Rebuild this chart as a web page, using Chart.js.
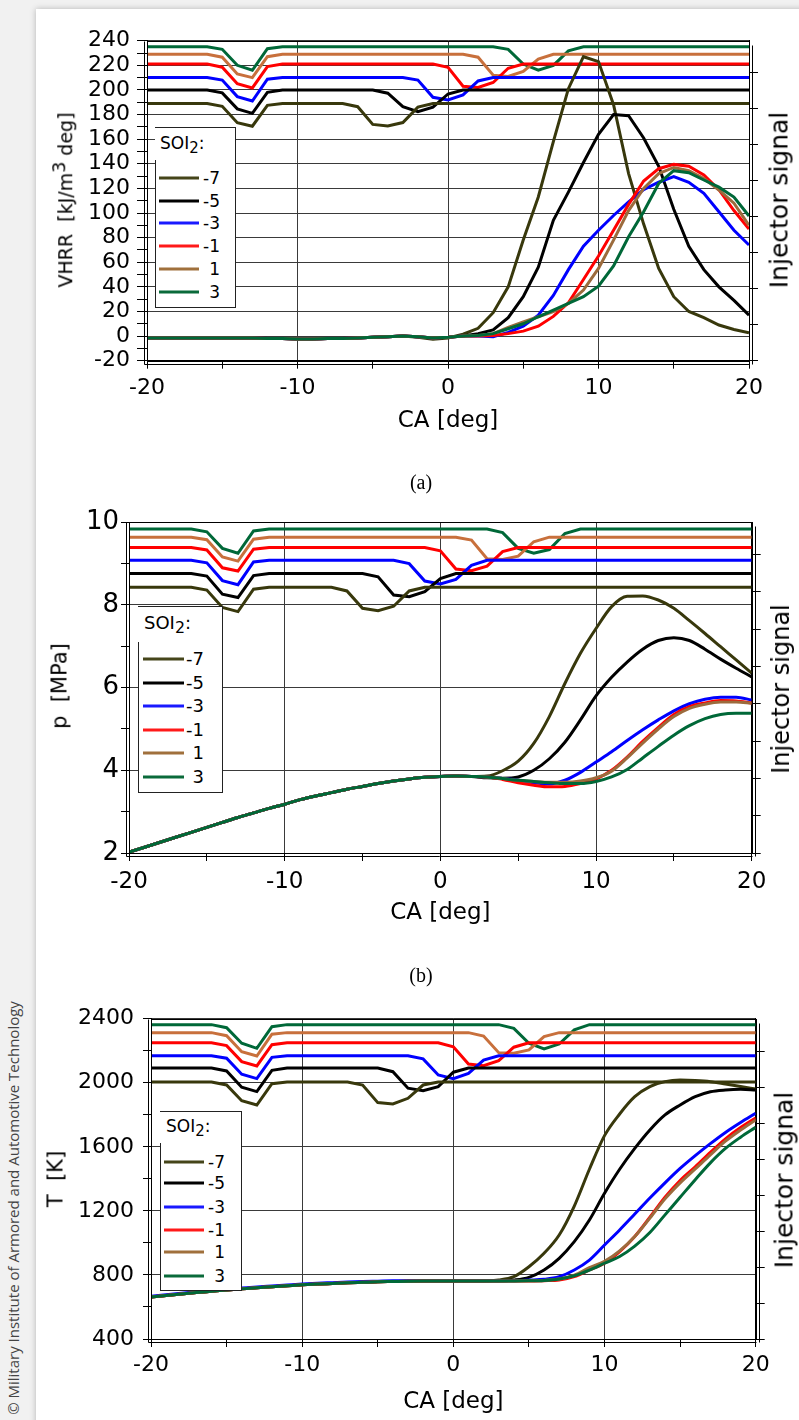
<!DOCTYPE html>
<html><head><meta charset="utf-8">
<script src="https://cdn.jsdelivr.net/npm/chart.js@4.4.1/dist/chart.umd.min.js"></script>
<style>
html,body{margin:0;padding:0}
body{width:799px;height:1420px;position:relative;overflow:hidden;background:#f1f1f1;font-family:'DejaVu Sans',sans-serif}
#card{position:absolute;left:36px;top:9px;width:770px;height:1420px;background:#fff;box-shadow:0 0 6px rgba(0,0,0,0.25)}
canvas{position:absolute;left:0}
.rot{position:absolute;white-space:nowrap;transform:translate(-50%,-50%) rotate(-90deg);color:#000;line-height:1}
.cap{position:absolute;font-family:'Liberation Serif',serif;font-size:20px;transform:translate(-50%,-50%);color:#000}
.leg{position:absolute;background:#fff;border:1px solid #222;border-left:none;box-sizing:border-box}
.legl{position:absolute;width:1px;background:#222}
.lt{position:absolute;white-space:nowrap;transform:translateY(-50%);line-height:1;color:#000}
.ll{position:absolute;height:3px;transform:translateY(-50%)}
#copy{position:absolute;left:13px;top:1208px;transform:translate(-50%,-50%) rotate(-90deg);white-space:nowrap;font-family:'Open Sans',sans-serif;font-size:15px;color:#444}
</style></head>
<body>
<div id="card"></div>
<div id="copy">© Military Institute of Armored and Automotive Technology</div>
<canvas id="c1" width="799" height="450" style="top:0px"></canvas>
<canvas id="c2" width="799" height="480" style="top:470px"></canvas>
<canvas id="c3" width="799" height="460" style="top:960px"></canvas>
<div class="cap" style="left:421px;top:482px">(a)</div>
<div class="cap" style="left:421px;top:975px">(b)</div>
<div class="rot" style="left:66px;top:200px;font-size:19px">VHRR&nbsp;&nbsp;[kJ/m<span style="font-size:92%;position:relative;top:-7px">3</span> deg]</div>
<div class="rot" style="left:60px;top:686px;font-size:21px">p&nbsp;&nbsp;[MPa]</div>
<div class="rot" style="left:56px;top:1179px;font-size:21px">T&nbsp;&nbsp;[K]</div>
<div class="rot" style="left:779px;top:200px;font-size:25px">Injector signal</div>
<div class="rot" style="left:781px;top:689px;font-size:24px">Injector signal</div>
<div class="rot" style="left:784px;top:1180px;font-size:25px">Injector signal</div>
<script>
// ---------- data ----------
const CA = [-20,-19,-18,-17,-16,-15,-14,-13,-12,-11,-10,-9,-8,-7,-6,-5,-4,-3,-2,-1,0,1,2,3,4,5,6,7,8,9,10,11,12,13,14,15,16,17,18,19,20];
const SOI2 = ['-7','-5','-3','-1','1','3'];

// (a) volumetric heat release rate, kJ/m3 deg
const VHRR_m7 = [-1.5,-1.5,-1.5,-1.5,-1.5,-1.5,-1.5,-1.5,-2,-2,-2.3,-2.3,-2,-2,-1.5,-1,-0.5,0,-1,-2.5,-1.5,1.5,6.3,19,40,78,113,158,201,227,223,188,132,91,55,32,20,15,9,5.4,2.7];
const VHRR_m5 = [-1.5,-1.5,-1.5,-1.5,-1.5,-1.5,-1.5,-1.5,-2,-2,-2.3,-2.3,-2,-2,-1.5,-1,-0.5,0,-0.5,-1.5,-1,0,2,5,15,32,56,94,117,141,164,180,179,161,138,103,73,54,40,29,17];
const VHRR_m3 = [-1.5,-1.5,-1.5,-1.5,-1.5,-1.5,-1.5,-1.5,-2,-2,-2.3,-2.3,-2,-2,-1.5,-1,-0.5,0,-0.5,-1.5,-1,0,0,-0.5,3,8,17,33,54,73,86,98,109,119,125,129.5,125,116,101,86,74];
const VHRR_m1 = [-1.5,-1.5,-1.5,-1.5,-1.5,-1.5,-1.5,-1.5,-2,-2,-2.3,-2.3,-2,-2,-1.5,-1,-0.5,0,-0.5,-1.5,-1,0,0,0.5,2,4,8,16,27,46,65,86,107,126,136,139.5,138,131,119,102,87];
const VHRR_p1 = [-1.5,-1.5,-1.5,-1.5,-1.5,-1.5,-1.5,-1.5,-2,-2,-2.3,-2.3,-2,-2,-1.5,-1,-0.5,0,-0.5,-1.5,-1,0,0.5,2,7,11.6,15.7,19.8,26.5,37.4,55,78,102,120,132,137,134.4,128,118.7,108,90];
const VHRR_p3 = [-1.5,-1.5,-1.5,-1.5,-1.5,-1.5,-1.5,-1.5,-2,-2,-2.3,-2.3,-2,-2,-1.5,-1,-0.5,0,-0.5,-1.5,-1,0,0.5,2,6,10,15.7,21,26.5,32,40.6,57,80.7,101,124,134.4,132.8,126.8,121,113,97.6];
// injector signal traces drawn in chart (a)
const INJ1_m7 = [189,189,189,189,189,186.7,173.4,170.5,187.5,189,189,189,189,189,186.4,172,170.7,173.5,186,189,189,189,189,189,189,189,189,189,189,189,189,189,189,189,189,189,189,189,189,189,189];
const INJ1_m5 = [200,200,200,200,200,197.6,184.6,181,198,200,200,200,200,200,200,200,197.3,186.4,182.4,186,196.7,200,200,200,200,200,200,200,200,200,200,200,200,200,200,200,200,200,200,200,200];
const INJ1_m3 = [210,210,210,210,210,208,194.6,191,208.7,210,210,210,210,210,210,210,210,210,208,194,191.9,196,207.3,210,210,210,210,210,210,210,210,210,210,210,210,210,210,210,210,210,210];
const INJ1_m1 = [221,221,221,221,221,218.5,205,201.6,219,221,221,221,221,221,221,221,221,221,221,221,218.4,203,202,206,217.6,221,221,221,221,221,221,221,221,221,221,221,221,221,221,221,221];
const INJ1_p1 = [229,229,229,229,229,226.6,213,210,227,229,229,229,229,229,229,229,229,229,229,229,229,229,226.6,212,211,215,225,229,229,229,229,229,229,229,229,229,229,229,229,229,229];
const INJ1_p3 = [235,235,235,235,235,233,220,216,233.5,235,235,235,235,235,235,235,235,235,235,235,235,235,235,235,233,221,216,220,231.7,235,235,235,235,235,235,235,235,235,235,235,235];

// (b) cylinder pressure, MPa
const P_m7 = [2.02,2.14,2.26,2.38,2.50,2.62,2.74,2.86,2.97,3.08,3.18,3.29,3.38,3.46,3.54,3.61,3.68,3.74,3.79,3.83,3.85,3.86,3.85,3.86,3.99,4.22,4.65,5.30,6.10,6.83,7.43,7.96,8.21,8.22,8.12,7.92,7.62,7.31,6.99,6.67,6.35];
const P_m5 = [2.02,2.14,2.26,2.38,2.50,2.62,2.74,2.86,2.97,3.08,3.18,3.29,3.38,3.46,3.54,3.61,3.68,3.74,3.79,3.83,3.85,3.86,3.85,3.82,3.81,3.84,4.00,4.28,4.68,5.22,5.80,6.25,6.62,6.93,7.14,7.21,7.14,6.93,6.69,6.47,6.26];
const P_m3 = [2.02,2.14,2.26,2.38,2.50,2.62,2.74,2.86,2.97,3.08,3.18,3.29,3.38,3.46,3.54,3.61,3.68,3.74,3.79,3.83,3.85,3.86,3.85,3.84,3.80,3.76,3.70,3.67,3.76,3.95,4.20,4.45,4.72,4.98,5.22,5.44,5.61,5.72,5.77,5.77,5.70];
const P_m1 = [2.02,2.14,2.26,2.38,2.50,2.62,2.74,2.86,2.97,3.08,3.18,3.29,3.38,3.46,3.54,3.61,3.68,3.74,3.79,3.83,3.85,3.86,3.85,3.84,3.78,3.70,3.64,3.60,3.61,3.68,3.79,4.00,4.32,4.70,5.04,5.35,5.54,5.63,5.69,5.68,5.63];
const P_p1 = [2.02,2.14,2.26,2.38,2.50,2.62,2.74,2.86,2.97,3.08,3.18,3.29,3.38,3.46,3.54,3.61,3.68,3.74,3.79,3.83,3.85,3.86,3.85,3.84,3.80,3.76,3.73,3.71,3.71,3.74,3.82,3.98,4.30,4.66,5.00,5.30,5.50,5.60,5.65,5.65,5.62];
const P_p3 = [2.02,2.14,2.26,2.38,2.50,2.62,2.74,2.86,2.97,3.08,3.18,3.29,3.38,3.46,3.54,3.61,3.68,3.74,3.79,3.83,3.85,3.86,3.85,3.84,3.80,3.76,3.73,3.70,3.68,3.68,3.73,3.84,4.02,4.30,4.58,4.85,5.08,5.25,5.35,5.38,5.38];
const INJ2_m7 = [8.43,8.43,8.43,8.43,8.43,8.36,7.94,7.84,8.38,8.43,8.43,8.43,8.43,8.43,8.34,7.92,7.86,7.97,8.34,8.43,8.43,8.43,8.43,8.43,8.43,8.43,8.43,8.43,8.43,8.43,8.43,8.43,8.43,8.43,8.43,8.43,8.43,8.43,8.43,8.43,8.43];
const INJ2_m5 = [8.76,8.76,8.76,8.76,8.76,8.70,8.26,8.18,8.71,8.76,8.76,8.76,8.76,8.76,8.76,8.76,8.68,8.24,8.20,8.32,8.64,8.76,8.76,8.76,8.76,8.76,8.76,8.76,8.76,8.76,8.76,8.76,8.76,8.76,8.76,8.76,8.76,8.76,8.76,8.76,8.76];
const INJ2_m3 = [9.08,9.08,9.08,9.08,9.08,9.02,8.59,8.49,9.04,9.08,9.08,9.08,9.08,9.08,9.08,9.08,9.08,9.08,9.00,8.58,8.51,8.62,8.96,9.08,9.08,9.08,9.08,9.08,9.08,9.08,9.08,9.08,9.08,9.08,9.08,9.08,9.08,9.08,9.08,9.08,9.08];
const INJ2_m1 = [9.39,9.39,9.39,9.39,9.39,9.33,8.90,8.82,9.35,9.39,9.39,9.39,9.39,9.39,9.39,9.39,9.39,9.39,9.39,9.39,9.31,8.87,8.83,8.94,9.29,9.39,9.39,9.39,9.39,9.39,9.39,9.39,9.39,9.39,9.39,9.39,9.39,9.39,9.39,9.39,9.39];
const INJ2_p1 = [9.64,9.64,9.64,9.64,9.64,9.58,9.16,9.06,9.59,9.64,9.64,9.64,9.64,9.64,9.64,9.64,9.64,9.64,9.64,9.64,9.64,9.64,9.57,9.12,9.10,9.18,9.53,9.64,9.64,9.64,9.64,9.64,9.64,9.64,9.64,9.64,9.64,9.64,9.64,9.64,9.64];
const INJ2_p3 = [9.835,9.835,9.835,9.835,9.835,9.77,9.37,9.25,9.79,9.835,9.835,9.835,9.835,9.835,9.835,9.835,9.835,9.835,9.835,9.835,9.835,9.835,9.835,9.835,9.75,9.37,9.25,9.34,9.73,9.835,9.835,9.835,9.835,9.835,9.835,9.835,9.835,9.835,9.835,9.835,9.835];

// (c) temperature, K
const T_m7 = [662,672,681,690,698,706,713,720,726,732,738,743,747,751,754,757,759,761,762,762,762,762,762,768,789,851,935,1049,1230,1460,1670,1805,1913,1976,2007,2017,2014,2007,1992,1976,1961];
const T_m5 = [662,672,681,690,698,706,713,720,726,732,738,743,747,751,754,757,759,761,762,762,762,762,762,762,768,785,831,904,1008,1143,1310,1460,1590,1705,1799,1861,1913,1944,1955,1959,1955];
const T_m3 = [667,677,686,695,703,711,718,725,731,737,743,748,752,756,759,761,763,764,764,764,764,764,764,764,764,768,773,789,831,893,987,1081,1180,1280,1375,1465,1545,1620,1690,1752,1810];
const T_m1 = [662,672,681,690,698,706,713,720,726,732,738,743,747,751,754,757,759,761,762,762,762,762,762,762,762,762,764,768,789,831,873,945,1040,1160,1285,1390,1475,1565,1650,1720,1780];
const T_p1 = [662,672,681,690,698,706,713,720,726,732,738,743,747,751,754,757,759,761,762,762,762,762,762,762,762,763,766,775,798,845,885,950,1040,1155,1275,1375,1462,1550,1635,1705,1768];
const T_p3 = [662,672,681,690,698,706,713,720,726,732,738,743,747,751,754,757,759,761,762,762,762,762,762,762,762,763,766,775,795,830,873,915,980,1065,1175,1285,1395,1500,1590,1660,1722];
const INJ3_m7 = [2005,2005,2005,2005,2005,1986,1888,1861,1994,2005,2005,2005,2005,2005,1986,1876,1868,1903,1986,2005,2005,2005,2005,2005,2005,2005,2005,2005,2005,2005,2005,2005,2005,2005,2005,2005,2005,2005,2005,2005,2005];
const INJ3_m5 = [2092,2092,2092,2092,2092,2074,1972,1945,2078,2092,2092,2092,2092,2092,2092,2092,2069,1966,1951,1976,2066,2092,2092,2092,2092,2092,2092,2092,2092,2092,2092,2092,2092,2092,2092,2092,2092,2092,2092,2092,2092];
const INJ3_m3 = [2169,2169,2169,2169,2169,2153,2053,2026,2159,2169,2169,2169,2169,2169,2169,2169,2169,2169,2149,2049,2026,2059,2142,2169,2169,2169,2169,2169,2169,2169,2169,2169,2169,2169,2169,2169,2169,2169,2169,2169,2169];
const INJ3_m1 = [2250,2250,2250,2250,2250,2232,2132,2105,2238,2250,2250,2250,2250,2250,2250,2250,2250,2250,2250,2250,2225,2117,2107,2138,2222,2250,2250,2250,2250,2250,2250,2250,2250,2250,2250,2250,2250,2250,2250,2250,2250];
const INJ3_p1 = [2313,2313,2313,2313,2313,2294,2194,2167,2303,2313,2313,2313,2313,2313,2313,2313,2313,2313,2313,2313,2313,2313,2292,2188,2184,2205,2288,2313,2313,2313,2313,2313,2313,2313,2313,2313,2313,2313,2313,2313,2313];
const INJ3_p3 = [2363,2363,2363,2363,2363,2344,2247,2215,2350,2363,2363,2363,2363,2363,2363,2363,2363,2363,2363,2363,2363,2363,2363,2363,2340,2247,2211,2242,2330,2363,2363,2363,2363,2363,2363,2363,2363,2363,2363,2363,2363];

// ---------- styles ----------
const CUR_COL = ['#38380c','#000000','#0000ff','#ff0000','#9c6b3c','#006838'];
const INJ_COL = ['#38380c','#000000','#0000ff','#ff0000','#c8703c','#006838'];
const LEG_COL = ['#45451a','#000000','#1a1aff','#ff1a1a','#a0703c','#0a6a3a'];
const GRID = '#3a3a3a';

Chart.defaults.font.family = "'DejaVu Sans', sans-serif";
Chart.defaults.color = '#000';

const framePlugin = {
  id: 'frame',
  afterDraw(chart) {
    const {ctx, chartArea: a} = chart;
    const L = Math.round(a.left) + 0.5, R = Math.round(a.right) + 0.5, T = Math.round(a.top) + 0.5, B = Math.round(a.bottom) + 0.5;
    ctx.save();
    ctx.strokeStyle = '#000'; ctx.lineWidth = 1;
    ctx.strokeRect(L, T, R - L, B - T);
    ctx.beginPath();
    ctx.moveTo(L - 3, T); ctx.lineTo(L - 3, B + 3); ctx.lineTo(R, B + 3);
    ctx.moveTo(R + 3, T + 4); ctx.lineTo(R + 3, B + 3);
    ctx.stroke();
    ctx.restore();
  }
};

function series(vals) { return CA.map((c, k) => ({x: c, y: vals[k]})); }

function build(id, o) {
  const datasets = [];
  o.inj.forEach((arr, i) => datasets.push({
    data: series(arr), borderColor: INJ_COL[i], borderWidth: 3, pointRadius: 0, tension: 0, order: 20 + i
  }));
  o.cur.forEach((arr, i) => datasets.push({
    data: series(arr), borderColor: CUR_COL[i], borderWidth: 3, pointRadius: 0,
    tension: 0, cubicInterpolationMode: o.smooth ? 'monotone' : 'default', order: 10 - i
  }));
  return new Chart(document.getElementById(id), {
    type: 'line',
    data: {datasets},
    plugins: [framePlugin],
    options: {
      responsive: false, animation: false, events: [],
      layout: {padding: {left: o.padL, top: o.padT, right: 0, bottom: 0}},
      plugins: {legend: {display: false}, tooltip: {enabled: false}},
      scales: {
        x: {
          type: 'linear', min: -20, max: 20,
          ticks: {stepSize: 5, autoSkip: false, maxRotation: 0, padding: o.xTickPad, font: {size: o.xTickSize}, color: '#000',
                  callback: v => (v % 10 === 0 ? String(v) : '')},
          grid: {color: c => (c.tick && c.tick.value % 10 === 0 ? GRID : 'rgba(0,0,0,0)'), tickColor: '#000', tickLength: 8, lineWidth: 1},
          border: {display: true, color: '#000'},
          title: {display: true, text: 'CA [deg]', font: {size: 23}, color: '#000', padding: {top: 0, bottom: o.xTitlePad}},
          afterFit: s => { s.height = o.xH; }
        },
        y: {
          type: 'linear', min: o.yMin, max: o.yMax,
          ticks: {stepSize: o.yStep, autoSkip: false, padding: o.yTickPad, font: {size: o.yTickSize}, color: '#000',
                  callback: v => (Math.abs(v % o.yMajor) < 1e-9 ? String(v) : '')},
          grid: {color: c => (c.tick && Math.abs(c.tick.value % o.yMajor) < 1e-9 ? GRID : 'rgba(0,0,0,0)'), tickColor: '#000', tickLength: o.yTickLen, lineWidth: 1},
          border: {display: true, color: '#000'},
          afterFit: s => { s.width = o.yW; }
        },
        y2: {
          type: 'linear', position: 'right', min: 0, max: o.y2Max,
          ticks: {stepSize: 1, autoSkip: false, padding: 0, callback: () => ''},
          grid: {drawOnChartArea: false, tickColor: '#000', tickLength: 9},
          border: {display: true, color: '#000'},
          afterBuildTicks: s => { s.ticks = s.ticks.filter(t => Math.abs(t.value - Math.round(t.value)) < 1e-9); },
          afterFit: s => { s.width = o.y2W; }
        }
      }
    }
  });
}

build('c1', {
  cur: [VHRR_m7, VHRR_m5, VHRR_m3, VHRR_m1, VHRR_p1, VHRR_p3],
  inj: [INJ1_m7, INJ1_m5, INJ1_m3, INJ1_m1, INJ1_p1, INJ1_p3],
  smooth: false, padL: 55, padT: 40.7, yW: 92, y2W: 50, xH: 89.3,
  yMin: -20, yMax: 240, yStep: 10, yMajor: 20, yTickSize: 22, yTickPad: 7, yTickLen: 10,
  xTickSize: 22, xTickPad: 6, xTitlePad: 15, y2Max: 320 / 36
});
build('c2', {
  cur: [P_m7, P_m5, P_m3, P_m1, P_p1, P_p3],
  inj: [INJ2_m7, INJ2_m5, INJ2_m3, INJ2_m1, INJ2_p1, INJ2_p3],
  smooth: true, padL: 40, padT: 52.3, yW: 89, y2W: 47.3, xH: 97,
  yMin: 2, yMax: 10, yStep: 1, yMajor: 2, yTickSize: 26, yTickPad: 2, yTickLen: 8,
  xTickSize: 23, xTickPad: 7, xTitlePad: 23, y2Max: 330.7 / 37.3
});
build('c3', {
  cur: [T_m7, T_m5, T_m3, T_m1, T_p1, T_p3],
  inj: [INJ3_m7, INJ3_m5, INJ3_m3, INJ3_m1, INJ3_p1, INJ3_p3],
  smooth: true, padL: 40, padT: 58.7, yW: 111, y2W: 43.3, xH: 81,
  yMin: 400, yMax: 2400, yStep: 200, yMajor: 400, yTickSize: 22, yTickPad: 9, yTickLen: 8,
  xTickSize: 22, xTickPad: 5, xTitlePad: 4, y2Max: 320.3 / 36
});

// ---------- legends ----------
function legend(o) {
  const box = document.createElement('div');
  box.className = 'leg';
  Object.assign(box.style, {left: o.x + 'px', top: o.y + 'px', width: o.w + 'px', height: o.h + 'px'});
  document.body.appendChild(box);
  const lb = document.createElement('div');
  lb.className = 'legl';
  Object.assign(lb.style, {left: o.x + 'px', top: o.ly + 'px', height: (o.y + o.h - o.ly) + 'px'});
  document.body.appendChild(lb);
  const t = document.createElement('div');
  t.className = 'lt';
  t.innerHTML = 'SOI<span style="font-size:88%;position:relative;top:4px">2</span>:';
  Object.assign(t.style, {left: o.tx + 'px', top: o.ty + 'px', fontSize: o.fs + 'px'});
  document.body.appendChild(t);
  SOI2.forEach((lab, i) => {
    const y = o.rows[i];
    const ln = document.createElement('div');
    ln.className = 'll';
    Object.assign(ln.style, {left: o.l1 + 'px', width: (o.l2 - o.l1) + 'px', top: y + 'px', background: LEG_COL[i]});
    document.body.appendChild(ln);
    const tx = document.createElement('div');
    tx.className = 'lt';
    tx.textContent = lab;
    Object.assign(tx.style, {left: (o.lr - 40) + 'px', width: '40px', textAlign: 'right', top: y + 'px', fontSize: o.fs + 'px'});
    document.body.appendChild(tx);
  });
}
legend({x: 155, y: 127, w: 81, h: 181, ly: 160, tx: 160, ty: 143, fs: 17, rows: [177.7, 200.7, 223.3, 246, 269.3, 291.7], l1: 159, l2: 199, lr: 220});
legend({x: 138, y: 606, w: 85, h: 187, ly: 642, tx: 144, ty: 623, fs: 18, rows: [659.3, 682.7, 706, 730, 753.3, 777.3], l1: 143, l2: 184, lr: 204});
legend({x: 160, y: 1111, w: 82, h: 180, ly: 1143, tx: 166, ty: 1126, fs: 17, rows: [1161.7, 1183.3, 1206.7, 1230, 1252.3, 1275.7], l1: 164, l2: 204, lr: 225});
</script>
</body></html>
